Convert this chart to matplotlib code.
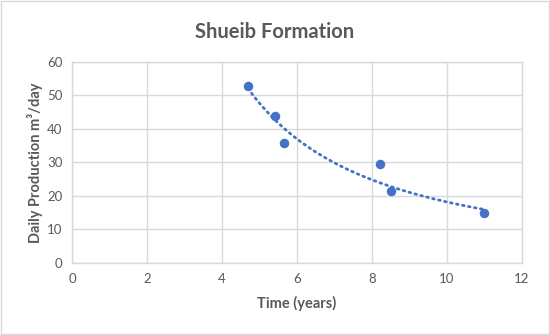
import matplotlib.pyplot as plt
import numpy as np
from matplotlib.patches import Rectangle

plt.rcParams['font.family'] = ['Lato', 'DejaVu Sans']

# values
time_years = np.array([4.69, 5.41, 5.66, 8.21, 8.51, 10.99])
daily_production = np.array([52.8, 43.8, 35.9, 29.5, 21.5, 14.8])
x_ticks = [0, 2, 4, 6, 8, 10, 12]
y_ticks = [0, 10, 20, 30, 40, 50, 60]

BLUE = '#4472C4'
GREY_TEXT = '#595959'
GRID = '#D9D9D9'

fig = plt.figure(figsize=(5.5, 3.35), dpi=100)
ax = fig.add_axes([0.131, 0.215, 0.818, 0.6])

# power trendline (Excel style) fitted to the points
b, log_a = np.polyfit(np.log(time_years), np.log(daily_production), 1)
xs = np.linspace(time_years.min(), time_years.max(), 200)
ax.plot(xs, np.exp(log_a) * xs ** b, color=BLUE, linestyle=(0, (0.6, 1.6)),
        linewidth=2.0, dash_capstyle='round', zorder=2)
ax.scatter(time_years, daily_production, s=34, color=BLUE, zorder=3)

ax.set_xlim(0, 12)
ax.set_ylim(0, 60)
ax.set_xticks(x_ticks)
ax.set_yticks(y_ticks)
ax.grid(True, color=GRID, linewidth=1.0)
ax.set_axisbelow(True)
for s in ax.spines.values():
    s.set_color(GRID)
    s.set_linewidth(1.0)
ax.tick_params(length=0, labelsize=9.5, labelcolor=GREY_TEXT, pad=7)

ax.set_xlabel('Time (years)', fontsize=10.5, fontweight='bold', color=GREY_TEXT, labelpad=8)
ax.set_ylabel('Daily Production m\u00b3/day', fontsize=10.5, fontweight='bold', color=GREY_TEXT, labelpad=3)
fig.text(0.5, 0.905, 'Shueib Formation', fontsize=14.5, fontweight='bold', color=GREY_TEXT,
         ha='center', va='center')

fig.patches.append(Rectangle((0.002, 0.003), 0.996, 0.994, transform=fig.transFigure,
                             fill=False, edgecolor=GRID, linewidth=1.0))

fig.savefig('out.png', dpi=100)
